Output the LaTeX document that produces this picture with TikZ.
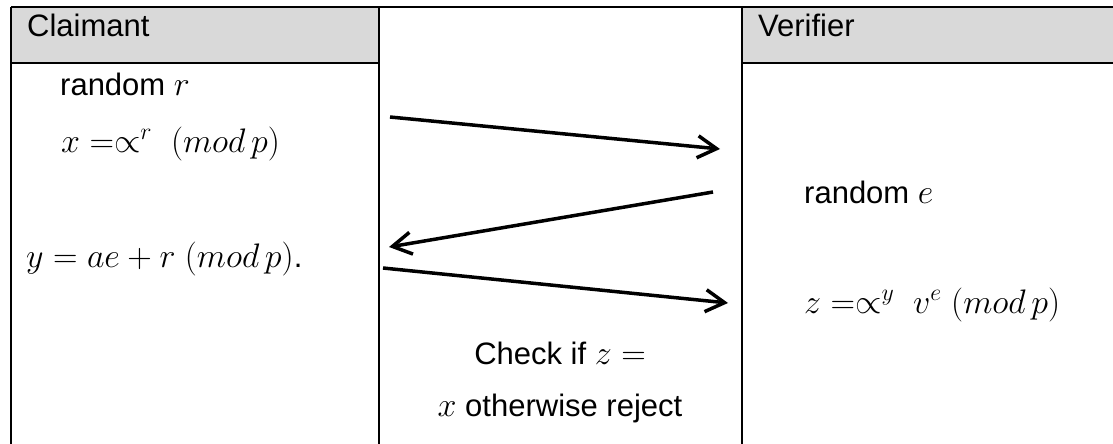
\RequirePackage{fix-cm}
\documentclass[tikz,border=0pt]{standalone}
\usepackage{fontspec}
\setmainfont{Liberation Sans}
\usetikzlibrary{arrows.meta}
\definecolor{hdr}{HTML}{D9D9D9}
\newcommand{\mth}[1]{{\fontsize{34}{40}\selectfont$#1$}}
\begin{document}
\begin{tikzpicture}[x=1pt,y=-1pt,
  txt/.style={anchor=base west, inner sep=0pt, font=\fontsize{31}{37}\selectfont},
  ctxt/.style={anchor=base, inner sep=0pt, font=\fontsize{31}{37}\selectfont},
  gridline/.style={line width=2pt, black},
  msg/.style={line width=3.5pt, -{Straight Barb[length=19pt, width=22pt, line width=3.5pt]}},
]
\useasboundingbox (0,0) rectangle (1113,444);
% header fills
\fill[hdr] (11,7) rectangle (379,63);
\fill[hdr] (742,7) rectangle (1113,63);
% grid
\draw[gridline] (11,7) -- (1113,7);
\draw[gridline] (11,63) -- (379,63);
\draw[gridline] (742,63) -- (1113,63);
\draw[gridline] (11,7) -- (11,444);
\draw[gridline] (379,7) -- (379,444);
\draw[gridline] (742,7) -- (742,444);
% headers
\node[txt] (claimant) at (27,37) {Claimant};
\node[txt] (verifier) at (758,37) {Verifier};
% claimant column
\node[txt] (randr) at (60,95) {random \mth{r}};
\node[txt] (xeq) at (61,152) {\mth{x =\propto^{r}\ (mod\,p)}};
\node[txt] (yeq) at (26,267) {\mth{y = ae + r\ (mod\,p)}.};
% verifier column
\node[txt] (rande) at (804,203) {random \mth{e}};
\node[txt] (zeq) at (804,313) {\mth{z =\propto^{y}\ v^{e}\ (mod\,p)}};
% middle column
\node[ctxt] (check1) at (560,364) {Check if \mth{z =}};
\node[ctxt] (check2) at (560,416) {\mth{x} otherwise reject};
% messages
\coordinate (m1s) at (390,117);
\coordinate (m1e) at (720,149);
\coordinate (m2s) at (713,192);
\coordinate (m2e) at (389,247);
\coordinate (m3s) at (383,268);
\coordinate (m3e) at (728,303);
\draw[msg] (m1s) -- (m1e);
\draw[msg] (m2s) -- (m2e);
\draw[msg] (m3s) -- (m3e);
\end{tikzpicture}
\end{document}
